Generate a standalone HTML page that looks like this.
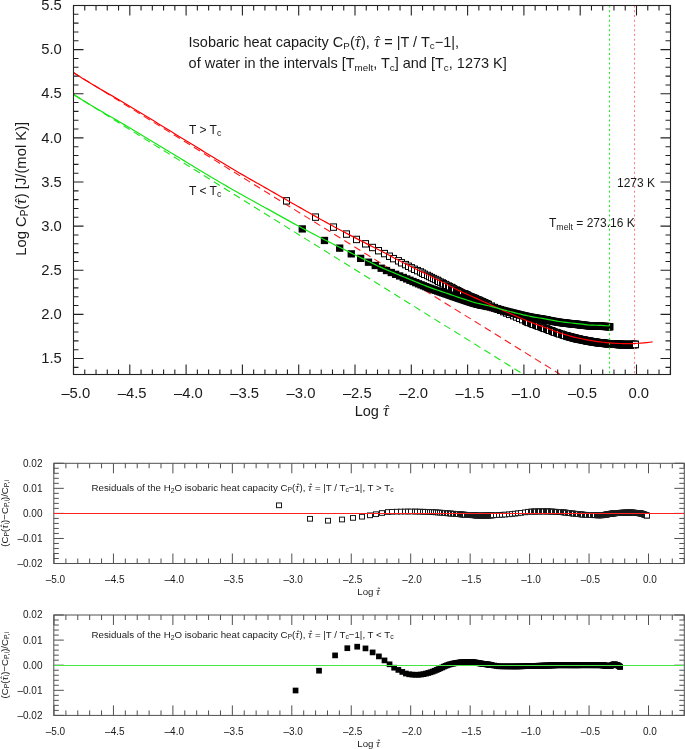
<!DOCTYPE html><html><head><meta charset="utf-8"><style>html,body{margin:0;padding:0;background:#fff;overflow:hidden}svg{display:block}text{font-family:"Liberation Sans", sans-serif}</style></head><body><svg width="685" height="749" viewBox="0 0 685 749" style="will-change:transform"><rect width="685" height="749" fill="#fff"/><defs><clipPath id="cm"><rect x="73.5" y="5.5" width="597" height="369"/></clipPath><clipPath id="cr1"><rect x="53.8" y="463.3" width="630.5" height="100.2"/></clipPath><clipPath id="cr2"><rect x="53.8" y="615" width="630.5" height="100.4"/></clipPath></defs><g clip-path="url(#cm)"><line x1="73.5" y1="72.6" x2="700" y2="461.03" stroke="#ff1a1a" stroke-width="1.1" stroke-dasharray="7.2 4.6"/><line x1="73.5" y1="94.5" x2="700" y2="484.18" stroke="#1ae61a" stroke-width="1.1" stroke-dasharray="7.2 4.6"/><g fill="#fff" stroke="#000" stroke-width="1"><rect x="283.5" y="197.67" width="6" height="6.4"/><rect x="312.5" y="213.93" width="6" height="6.4"/><rect x="330.5" y="223.9" width="6" height="6.4"/><rect x="343.5" y="230.88" width="6" height="6.4"/><rect x="353.5" y="236.25" width="6" height="6.4"/><rect x="362.5" y="240.63" width="6" height="6.4"/><rect x="369.5" y="244.31" width="6" height="6.4"/><rect x="375.5" y="247.49" width="6" height="6.4"/><rect x="381.5" y="250.39" width="6" height="6.4"/><rect x="386.5" y="253.04" width="6" height="6.4"/><rect x="390.5" y="255.45" width="6" height="6.4"/><rect x="395.5" y="257.63" width="6" height="6.4"/><rect x="398.5" y="259.61" width="6" height="6.4"/><rect x="402.5" y="261.41" width="6" height="6.4"/><rect x="405.5" y="263.08" width="6" height="6.4"/><rect x="408.5" y="264.63" width="6" height="6.4"/><rect x="411.5" y="266.08" width="6" height="6.4"/><rect x="414.5" y="267.45" width="6" height="6.4"/><rect x="417.5" y="268.74" width="6" height="6.4"/><rect x="419.5" y="269.97" width="6" height="6.4"/><rect x="421.5" y="271.14" width="6" height="6.4"/><rect x="424.5" y="272.26" width="6" height="6.4"/><rect x="426.5" y="273.33" width="6" height="6.4"/><rect x="428.5" y="274.36" width="6" height="6.4"/><rect x="430.5" y="275.34" width="6" height="6.4"/><rect x="432.5" y="276.29" width="6" height="6.4"/><rect x="434.5" y="277.2" width="6" height="6.4"/><rect x="435.5" y="278.08" width="6" height="6.4"/><rect x="437.5" y="278.93" width="6" height="6.4"/><rect x="439.5" y="279.75" width="6" height="6.4"/><rect x="440.5" y="280.55" width="6" height="6.4"/><rect x="442.5" y="281.33" width="6" height="6.4"/><rect x="443.5" y="282.08" width="6" height="6.4"/><rect x="445.5" y="282.83" width="6" height="6.4"/><rect x="446.5" y="283.55" width="6" height="6.4"/><rect x="448.5" y="284.26" width="6" height="6.4"/><rect x="449.5" y="284.95" width="6" height="6.4"/><rect x="450.5" y="285.61" width="6" height="6.4"/><rect x="451.5" y="286.26" width="6" height="6.4"/><rect x="453.5" y="286.88" width="6" height="6.4"/><rect x="454.5" y="287.48" width="6" height="6.4"/><rect x="455.5" y="288.06" width="6" height="6.4"/><rect x="456.5" y="288.61" width="6" height="6.4"/><rect x="457.5" y="289.14" width="6" height="6.4"/><rect x="458.5" y="289.66" width="6" height="6.4"/><rect x="459.5" y="290.15" width="6" height="6.4"/><rect x="461.5" y="290.62" width="6" height="6.4"/><rect x="462.5" y="291.08" width="6" height="6.4"/><rect x="463.5" y="291.53" width="6" height="6.4"/><rect x="464.5" y="291.97" width="6" height="6.4"/><rect x="464.5" y="292.39" width="6" height="6.4"/><rect x="465.5" y="292.8" width="6" height="6.4"/><rect x="466.5" y="293.21" width="6" height="6.4"/><rect x="467.5" y="293.61" width="6" height="6.4"/><rect x="468.5" y="294" width="6" height="6.4"/><rect x="469.5" y="294.38" width="6" height="6.4"/><rect x="470.5" y="294.76" width="6" height="6.4"/><rect x="471.5" y="295.14" width="6" height="6.4"/><rect x="472.5" y="295.51" width="6" height="6.4"/><rect x="472.5" y="295.87" width="6" height="6.4"/><rect x="473.5" y="296.23" width="6" height="6.4"/><rect x="474.5" y="296.58" width="6" height="6.4"/><rect x="475.5" y="296.93" width="6" height="6.4"/><rect x="476.5" y="297.27" width="6" height="6.4"/><rect x="476.5" y="297.61" width="6" height="6.4"/><rect x="477.5" y="297.94" width="6" height="6.4"/><rect x="478.5" y="298.27" width="6" height="6.4"/><rect x="479.5" y="298.59" width="6" height="6.4"/><rect x="479.5" y="298.91" width="6" height="6.4"/><rect x="480.5" y="299.22" width="6" height="6.4"/><rect x="481.5" y="299.53" width="6" height="6.4"/><rect x="481.5" y="299.83" width="6" height="6.4"/><rect x="482.5" y="300.13" width="6" height="6.4"/><rect x="483.5" y="300.43" width="6" height="6.4"/><rect x="483.5" y="300.72" width="6" height="6.4"/><rect x="484.5" y="301.01" width="6" height="6.4"/><rect x="485.5" y="301.3" width="6" height="6.4"/><rect x="485.5" y="301.58" width="6" height="6.4"/><rect x="488.5" y="302.94" width="6" height="6.4"/><rect x="491.5" y="304.31" width="6" height="6.4"/><rect x="494.5" y="305.68" width="6" height="6.4"/><rect x="497.5" y="307.05" width="6" height="6.4"/><rect x="500.5" y="308.43" width="6" height="6.4"/><rect x="503.5" y="309.8" width="6" height="6.4"/><rect x="506.5" y="311.16" width="6" height="6.4"/><rect x="510.5" y="312.49" width="6" height="6.4"/><rect x="513.5" y="313.82" width="6" height="6.4"/><rect x="516.5" y="315.14" width="6" height="6.4"/><rect x="519.5" y="316.45" width="6" height="6.4"/><rect x="522.5" y="317.73" width="6" height="6.4"/><rect x="523.5" y="318.24" width="6" height="6.4"/><rect x="524.5" y="318.74" width="6" height="6.4"/><rect x="525.5" y="319.24" width="6" height="6.4"/><rect x="527.5" y="319.73" width="6" height="6.4"/><rect x="528.5" y="320.21" width="6" height="6.4"/><rect x="529.5" y="320.69" width="6" height="6.4"/><rect x="530.5" y="321.15" width="6" height="6.4"/><rect x="532.5" y="321.61" width="6" height="6.4"/><rect x="533.5" y="322.06" width="6" height="6.4"/><rect x="534.5" y="322.51" width="6" height="6.4"/><rect x="535.5" y="322.96" width="6" height="6.4"/><rect x="537.5" y="323.4" width="6" height="6.4"/><rect x="538.5" y="323.84" width="6" height="6.4"/><rect x="539.5" y="324.29" width="6" height="6.4"/><rect x="540.5" y="324.74" width="6" height="6.4"/><rect x="541.5" y="325.19" width="6" height="6.4"/><rect x="543.5" y="325.64" width="6" height="6.4"/><rect x="544.5" y="326.11" width="6" height="6.4"/><rect x="545.5" y="326.58" width="6" height="6.4"/><rect x="546.5" y="327.05" width="6" height="6.4"/><rect x="548.5" y="327.52" width="6" height="6.4"/><rect x="549.5" y="327.99" width="6" height="6.4"/><rect x="550.5" y="328.46" width="6" height="6.4"/><rect x="551.5" y="328.92" width="6" height="6.4"/><rect x="553.5" y="329.37" width="6" height="6.4"/><rect x="554.5" y="329.81" width="6" height="6.4"/><rect x="555.5" y="330.24" width="6" height="6.4"/><rect x="556.5" y="330.65" width="6" height="6.4"/><rect x="558.5" y="331.05" width="6" height="6.4"/><rect x="559.5" y="331.45" width="6" height="6.4"/><rect x="560.5" y="331.83" width="6" height="6.4"/><rect x="561.5" y="332.21" width="6" height="6.4"/><rect x="563.5" y="332.59" width="6" height="6.4"/><rect x="563.5" y="332.78" width="6" height="6.4"/><rect x="564.5" y="332.96" width="6" height="6.4"/><rect x="564.5" y="333.14" width="6" height="6.4"/><rect x="565.5" y="333.32" width="6" height="6.4"/><rect x="566.5" y="333.49" width="6" height="6.4"/><rect x="566.5" y="333.66" width="6" height="6.4"/><rect x="567.5" y="333.82" width="6" height="6.4"/><rect x="567.5" y="333.98" width="6" height="6.4"/><rect x="568.5" y="334.14" width="6" height="6.4"/><rect x="569.5" y="334.29" width="6" height="6.4"/><rect x="569.5" y="334.44" width="6" height="6.4"/><rect x="570.5" y="334.58" width="6" height="6.4"/><rect x="570.5" y="334.72" width="6" height="6.4"/><rect x="571.5" y="334.86" width="6" height="6.4"/><rect x="571.5" y="334.99" width="6" height="6.4"/><rect x="572.5" y="335.12" width="6" height="6.4"/><rect x="572.5" y="335.24" width="6" height="6.4"/><rect x="573.5" y="335.37" width="6" height="6.4"/><rect x="573.5" y="335.49" width="6" height="6.4"/><rect x="574.5" y="335.61" width="6" height="6.4"/><rect x="574.5" y="335.72" width="6" height="6.4"/><rect x="575.5" y="335.84" width="6" height="6.4"/><rect x="576.5" y="336" width="6" height="6.4"/><rect x="576.5" y="336.17" width="6" height="6.4"/><rect x="577.5" y="336.32" width="6" height="6.4"/><rect x="578.5" y="336.48" width="6" height="6.4"/><rect x="579.5" y="336.62" width="6" height="6.4"/><rect x="579.5" y="336.77" width="6" height="6.4"/><rect x="580.5" y="336.91" width="6" height="6.4"/><rect x="581.5" y="337.04" width="6" height="6.4"/><rect x="581.5" y="337.18" width="6" height="6.4"/><rect x="582.5" y="337.3" width="6" height="6.4"/><rect x="583.5" y="337.43" width="6" height="6.4"/><rect x="583.5" y="337.55" width="6" height="6.4"/><rect x="584.5" y="337.67" width="6" height="6.4"/><rect x="584.5" y="337.78" width="6" height="6.4"/><rect x="585.5" y="337.89" width="6" height="6.4"/><rect x="586.5" y="338" width="6" height="6.4"/><rect x="586.5" y="338.11" width="6" height="6.4"/><rect x="587.5" y="338.21" width="6" height="6.4"/><rect x="587.5" y="338.31" width="6" height="6.4"/><rect x="588.5" y="338.4" width="6" height="6.4"/><rect x="589.5" y="338.5" width="6" height="6.4"/><rect x="589.5" y="338.59" width="6" height="6.4"/><rect x="590.5" y="338.68" width="6" height="6.4"/><rect x="590.5" y="338.77" width="6" height="6.4"/><rect x="591.5" y="338.86" width="6" height="6.4"/><rect x="591.5" y="338.94" width="6" height="6.4"/><rect x="592.5" y="339.02" width="6" height="6.4"/><rect x="592.5" y="339.1" width="6" height="6.4"/><rect x="593.5" y="339.18" width="6" height="6.4"/><rect x="593.5" y="339.25" width="6" height="6.4"/><rect x="594.5" y="339.33" width="6" height="6.4"/><rect x="594.5" y="339.4" width="6" height="6.4"/><rect x="595.5" y="339.48" width="6" height="6.4"/><rect x="596.5" y="339.57" width="6" height="6.4"/><rect x="596.5" y="339.65" width="6" height="6.4"/><rect x="597.5" y="339.73" width="6" height="6.4"/><rect x="598.5" y="339.8" width="6" height="6.4"/><rect x="598.5" y="339.88" width="6" height="6.4"/><rect x="599.5" y="339.95" width="6" height="6.4"/><rect x="600.5" y="340.01" width="6" height="6.4"/><rect x="600.5" y="340.08" width="6" height="6.4"/><rect x="601.5" y="340.14" width="6" height="6.4"/><rect x="601.5" y="340.2" width="6" height="6.4"/><rect x="602.5" y="340.26" width="6" height="6.4"/><rect x="602.5" y="340.32" width="6" height="6.4"/><rect x="603.5" y="340.37" width="6" height="6.4"/><rect x="604.5" y="340.43" width="6" height="6.4"/><rect x="604.5" y="340.48" width="6" height="6.4"/><rect x="605.5" y="340.53" width="6" height="6.4"/><rect x="605.5" y="340.57" width="6" height="6.4"/><rect x="606.5" y="340.62" width="6" height="6.4"/><rect x="606.5" y="340.66" width="6" height="6.4"/><rect x="607.5" y="340.7" width="6" height="6.4"/><rect x="607.5" y="340.74" width="6" height="6.4"/><rect x="608.5" y="340.78" width="6" height="6.4"/><rect x="608.5" y="340.82" width="6" height="6.4"/><rect x="609.5" y="340.85" width="6" height="6.4"/><rect x="609.5" y="340.9" width="6" height="6.4"/><rect x="610.5" y="340.95" width="6" height="6.4"/><rect x="611.5" y="340.99" width="6" height="6.4"/><rect x="611.5" y="341.03" width="6" height="6.4"/><rect x="612.5" y="341.08" width="6" height="6.4"/><rect x="612.5" y="341.11" width="6" height="6.4"/><rect x="613.5" y="341.15" width="6" height="6.4"/><rect x="614.5" y="341.18" width="6" height="6.4"/><rect x="614.5" y="341.21" width="6" height="6.4"/><rect x="615.5" y="341.23" width="6" height="6.4"/><rect x="615.5" y="341.26" width="6" height="6.4"/><rect x="616.5" y="341.28" width="6" height="6.4"/><rect x="616.5" y="341.29" width="6" height="6.4"/><rect x="617.5" y="341.3" width="6" height="6.4"/><rect x="617.5" y="341.31" width="6" height="6.4"/><rect x="618.5" y="341.32" width="6" height="6.4"/><rect x="618.5" y="341.33" width="6" height="6.4"/><rect x="619.5" y="341.33" width="6" height="6.4"/><rect x="619.5" y="341.34" width="6" height="6.4"/><rect x="620.5" y="341.35" width="6" height="6.4"/><rect x="621.5" y="341.36" width="6" height="6.4"/><rect x="621.5" y="341.36" width="6" height="6.4"/><rect x="622.5" y="341.37" width="6" height="6.4"/><rect x="622.5" y="341.38" width="6" height="6.4"/><rect x="623.5" y="341.38" width="6" height="6.4"/><rect x="623.5" y="341.39" width="6" height="6.4"/><rect x="624.5" y="341.39" width="6" height="6.4"/><rect x="625.5" y="341.39" width="6" height="6.4"/><rect x="625.5" y="341.4" width="6" height="6.4"/><rect x="626.5" y="341.4" width="6" height="6.4"/><rect x="626.5" y="341.4" width="6" height="6.4"/><rect x="627.5" y="341.4" width="6" height="6.4"/><rect x="627.5" y="341.4" width="6" height="6.4"/><rect x="628.5" y="341.39" width="6" height="6.4"/><rect x="628.5" y="341.38" width="6" height="6.4"/><rect x="629.5" y="341.37" width="6" height="6.4"/><rect x="629.5" y="341.35" width="6" height="6.4"/><rect x="630.5" y="341.33" width="6" height="6.4"/><rect x="630.5" y="341.3" width="6" height="6.4"/><rect x="631.5" y="341.28" width="6" height="6.4"/><rect x="632.5" y="341.25" width="6" height="6.4"/><rect x="632.5" y="341.24" width="6" height="6.4"/></g><g fill="#000"><rect x="298.61" y="225.26" width="7.3" height="7.3"/><rect x="320.82" y="236.82" width="7.3" height="7.3"/><rect x="336.03" y="244.49" width="7.3" height="7.3"/><rect x="347.62" y="250.19" width="7.3" height="7.3"/><rect x="356.98" y="254.73" width="7.3" height="7.3"/><rect x="364.83" y="258.55" width="7.3" height="7.3"/><rect x="371.6" y="261.84" width="7.3" height="7.3"/><rect x="377.54" y="264.58" width="7.3" height="7.3"/><rect x="382.84" y="266.88" width="7.3" height="7.3"/><rect x="387.62" y="268.88" width="7.3" height="7.3"/><rect x="391.97" y="270.67" width="7.3" height="7.3"/><rect x="395.97" y="272.31" width="7.3" height="7.3"/><rect x="399.66" y="273.83" width="7.3" height="7.3"/><rect x="403.1" y="275.26" width="7.3" height="7.3"/><rect x="406.31" y="276.6" width="7.3" height="7.3"/><rect x="409.32" y="277.86" width="7.3" height="7.3"/><rect x="412.16" y="279.03" width="7.3" height="7.3"/><rect x="414.84" y="280.14" width="7.3" height="7.3"/><rect x="417.38" y="281.17" width="7.3" height="7.3"/><rect x="419.8" y="282.13" width="7.3" height="7.3"/><rect x="422.1" y="283.04" width="7.3" height="7.3"/><rect x="424.3" y="283.88" width="7.3" height="7.3"/><rect x="426.41" y="284.67" width="7.3" height="7.3"/><rect x="428.42" y="285.41" width="7.3" height="7.3"/><rect x="430.36" y="286.1" width="7.3" height="7.3"/><rect x="432.23" y="286.74" width="7.3" height="7.3"/><rect x="434.02" y="287.36" width="7.3" height="7.3"/><rect x="435.75" y="287.95" width="7.3" height="7.3"/><rect x="437.43" y="288.52" width="7.3" height="7.3"/><rect x="439.04" y="289.06" width="7.3" height="7.3"/><rect x="440.61" y="289.6" width="7.3" height="7.3"/><rect x="442.12" y="290.12" width="7.3" height="7.3"/><rect x="443.6" y="290.62" width="7.3" height="7.3"/><rect x="445.02" y="291.11" width="7.3" height="7.3"/><rect x="446.41" y="291.59" width="7.3" height="7.3"/><rect x="447.76" y="292.05" width="7.3" height="7.3"/><rect x="449.07" y="292.5" width="7.3" height="7.3"/><rect x="450.35" y="292.94" width="7.3" height="7.3"/><rect x="451.6" y="293.36" width="7.3" height="7.3"/><rect x="452.82" y="293.77" width="7.3" height="7.3"/><rect x="454" y="294.17" width="7.3" height="7.3"/><rect x="455.16" y="294.56" width="7.3" height="7.3"/><rect x="456.29" y="294.93" width="7.3" height="7.3"/><rect x="457.4" y="295.3" width="7.3" height="7.3"/><rect x="458.48" y="295.66" width="7.3" height="7.3"/><rect x="459.53" y="296.01" width="7.3" height="7.3"/><rect x="460.57" y="296.36" width="7.3" height="7.3"/><rect x="461.58" y="296.7" width="7.3" height="7.3"/><rect x="462.58" y="297.03" width="7.3" height="7.3"/><rect x="463.55" y="297.35" width="7.3" height="7.3"/><rect x="464.5" y="297.67" width="7.3" height="7.3"/><rect x="465.44" y="297.97" width="7.3" height="7.3"/><rect x="466.36" y="298.27" width="7.3" height="7.3"/><rect x="467.26" y="298.55" width="7.3" height="7.3"/><rect x="468.15" y="298.82" width="7.3" height="7.3"/><rect x="469.01" y="299.08" width="7.3" height="7.3"/><rect x="469.87" y="299.33" width="7.3" height="7.3"/><rect x="470.71" y="299.57" width="7.3" height="7.3"/><rect x="471.53" y="299.8" width="7.3" height="7.3"/><rect x="472.35" y="300.02" width="7.3" height="7.3"/><rect x="473.14" y="300.23" width="7.3" height="7.3"/><rect x="473.93" y="300.43" width="7.3" height="7.3"/><rect x="474.7" y="300.62" width="7.3" height="7.3"/><rect x="475.46" y="300.8" width="7.3" height="7.3"/><rect x="476.21" y="300.98" width="7.3" height="7.3"/><rect x="476.95" y="301.16" width="7.3" height="7.3"/><rect x="477.68" y="301.32" width="7.3" height="7.3"/><rect x="478.4" y="301.49" width="7.3" height="7.3"/><rect x="479.1" y="301.65" width="7.3" height="7.3"/><rect x="480.49" y="301.97" width="7.3" height="7.3"/><rect x="481.83" y="302.27" width="7.3" height="7.3"/><rect x="483.14" y="302.58" width="7.3" height="7.3"/><rect x="484.41" y="302.88" width="7.3" height="7.3"/><rect x="486.72" y="303.44" width="7.3" height="7.3"/><rect x="488.92" y="304.01" width="7.3" height="7.3"/><rect x="491.02" y="304.56" width="7.3" height="7.3"/><rect x="493.04" y="305.1" width="7.3" height="7.3"/><rect x="494.98" y="305.63" width="7.3" height="7.3"/><rect x="496.84" y="306.13" width="7.3" height="7.3"/><rect x="498.64" y="306.62" width="7.3" height="7.3"/><rect x="500.37" y="307.09" width="7.3" height="7.3"/><rect x="502.05" y="307.53" width="7.3" height="7.3"/><rect x="503.66" y="307.96" width="7.3" height="7.3"/><rect x="505.23" y="308.37" width="7.3" height="7.3"/><rect x="506.75" y="308.75" width="7.3" height="7.3"/><rect x="508.22" y="309.12" width="7.3" height="7.3"/><rect x="509.65" y="309.49" width="7.3" height="7.3"/><rect x="511.04" y="309.84" width="7.3" height="7.3"/><rect x="512.39" y="310.18" width="7.3" height="7.3"/><rect x="513.7" y="310.52" width="7.3" height="7.3"/><rect x="514.98" y="310.84" width="7.3" height="7.3"/><rect x="516.22" y="311.15" width="7.3" height="7.3"/><rect x="517.44" y="311.45" width="7.3" height="7.3"/><rect x="518.63" y="311.74" width="7.3" height="7.3"/><rect x="519.78" y="312.01" width="7.3" height="7.3"/><rect x="520.92" y="312.27" width="7.3" height="7.3"/><rect x="522.02" y="312.53" width="7.3" height="7.3"/><rect x="523.1" y="312.77" width="7.3" height="7.3"/><rect x="524.16" y="313" width="7.3" height="7.3"/><rect x="525.2" y="313.21" width="7.3" height="7.3"/><rect x="526.21" y="313.42" width="7.3" height="7.3"/><rect x="527.2" y="313.62" width="7.3" height="7.3"/><rect x="528.18" y="313.8" width="7.3" height="7.3"/><rect x="529.13" y="313.98" width="7.3" height="7.3"/><rect x="530.07" y="314.15" width="7.3" height="7.3"/><rect x="530.99" y="314.31" width="7.3" height="7.3"/><rect x="531.89" y="314.46" width="7.3" height="7.3"/><rect x="532.77" y="314.61" width="7.3" height="7.3"/><rect x="533.64" y="314.76" width="7.3" height="7.3"/><rect x="534.5" y="314.9" width="7.3" height="7.3"/><rect x="535.34" y="315.04" width="7.3" height="7.3"/><rect x="536.16" y="315.17" width="7.3" height="7.3"/><rect x="536.97" y="315.31" width="7.3" height="7.3"/><rect x="537.77" y="315.44" width="7.3" height="7.3"/><rect x="538.56" y="315.57" width="7.3" height="7.3"/><rect x="539.33" y="315.7" width="7.3" height="7.3"/><rect x="540.09" y="315.83" width="7.3" height="7.3"/><rect x="540.84" y="315.96" width="7.3" height="7.3"/><rect x="541.58" y="316.09" width="7.3" height="7.3"/><rect x="542.31" y="316.22" width="7.3" height="7.3"/><rect x="543.03" y="316.35" width="7.3" height="7.3"/><rect x="543.73" y="316.49" width="7.3" height="7.3"/><rect x="545.12" y="316.75" width="7.3" height="7.3"/><rect x="546.46" y="317.01" width="7.3" height="7.3"/><rect x="547.77" y="317.26" width="7.3" height="7.3"/><rect x="549.04" y="317.5" width="7.3" height="7.3"/><rect x="550.29" y="317.74" width="7.3" height="7.3"/><rect x="551.5" y="317.96" width="7.3" height="7.3"/><rect x="552.68" y="318.17" width="7.3" height="7.3"/><rect x="553.83" y="318.36" width="7.3" height="7.3"/><rect x="554.96" y="318.54" width="7.3" height="7.3"/><rect x="556.06" y="318.71" width="7.3" height="7.3"/><rect x="557.14" y="318.86" width="7.3" height="7.3"/><rect x="558.2" y="319" width="7.3" height="7.3"/><rect x="559.23" y="319.14" width="7.3" height="7.3"/><rect x="560.24" y="319.27" width="7.3" height="7.3"/><rect x="561.23" y="319.39" width="7.3" height="7.3"/><rect x="562.2" y="319.5" width="7.3" height="7.3"/><rect x="563.15" y="319.62" width="7.3" height="7.3"/><rect x="564.09" y="319.72" width="7.3" height="7.3"/><rect x="565" y="319.83" width="7.3" height="7.3"/><rect x="565.9" y="319.93" width="7.3" height="7.3"/><rect x="566.79" y="320.02" width="7.3" height="7.3"/><rect x="567.65" y="320.12" width="7.3" height="7.3"/><rect x="568.51" y="320.21" width="7.3" height="7.3"/><rect x="569.34" y="320.3" width="7.3" height="7.3"/><rect x="570.17" y="320.38" width="7.3" height="7.3"/><rect x="570.98" y="320.47" width="7.3" height="7.3"/><rect x="571.78" y="320.55" width="7.3" height="7.3"/><rect x="572.56" y="320.64" width="7.3" height="7.3"/><rect x="573.33" y="320.72" width="7.3" height="7.3"/><rect x="574.09" y="320.8" width="7.3" height="7.3"/><rect x="574.84" y="320.88" width="7.3" height="7.3"/><rect x="575.58" y="320.96" width="7.3" height="7.3"/><rect x="576.3" y="321.04" width="7.3" height="7.3"/><rect x="577.02" y="321.13" width="7.3" height="7.3"/><rect x="577.72" y="321.21" width="7.3" height="7.3"/><rect x="578.76" y="321.34" width="7.3" height="7.3"/><rect x="579.78" y="321.47" width="7.3" height="7.3"/><rect x="580.78" y="321.6" width="7.3" height="7.3"/><rect x="581.75" y="321.72" width="7.3" height="7.3"/><rect x="582.71" y="321.83" width="7.3" height="7.3"/><rect x="583.65" y="321.93" width="7.3" height="7.3"/><rect x="584.57" y="322.02" width="7.3" height="7.3"/><rect x="585.47" y="322.09" width="7.3" height="7.3"/><rect x="586.36" y="322.15" width="7.3" height="7.3"/><rect x="587.23" y="322.2" width="7.3" height="7.3"/><rect x="588.09" y="322.24" width="7.3" height="7.3"/><rect x="588.93" y="322.28" width="7.3" height="7.3"/><rect x="589.76" y="322.31" width="7.3" height="7.3"/><rect x="590.57" y="322.34" width="7.3" height="7.3"/><rect x="591.38" y="322.37" width="7.3" height="7.3"/><rect x="592.16" y="322.39" width="7.3" height="7.3"/><rect x="592.94" y="322.42" width="7.3" height="7.3"/><rect x="593.7" y="322.45" width="7.3" height="7.3"/><rect x="594.45" y="322.47" width="7.3" height="7.3"/><rect x="595.19" y="322.5" width="7.3" height="7.3"/><rect x="595.92" y="322.53" width="7.3" height="7.3"/><rect x="596.64" y="322.56" width="7.3" height="7.3"/><rect x="597.35" y="322.6" width="7.3" height="7.3"/><rect x="598.28" y="322.64" width="7.3" height="7.3"/><rect x="599.19" y="322.69" width="7.3" height="7.3"/><rect x="600.08" y="322.73" width="7.3" height="7.3"/><rect x="600.96" y="322.78" width="7.3" height="7.3"/><rect x="601.82" y="322.82" width="7.3" height="7.3"/><rect x="602.67" y="322.87" width="7.3" height="7.3"/><rect x="603.5" y="322.92" width="7.3" height="7.3"/><rect x="604.32" y="322.96" width="7.3" height="7.3"/><rect x="605.13" y="323.01" width="7.3" height="7.3"/><rect x="605.92" y="323.05" width="7.3" height="7.3"/><rect x="606.03" y="323.05" width="7.3" height="7.3"/></g><line x1="609.5" y1="5.5" x2="609.5" y2="374" stroke="#22ee22" stroke-width="1.1" stroke-dasharray="2 2.75"/><line x1="634.5" y1="5.5" x2="634.5" y2="374" stroke="#ff7f7f" stroke-width="1.1" stroke-dasharray="2 2.75"/><polyline fill="none" stroke="#ff0000" stroke-width="1.2" points="73.5,72.6 76.41,74.48 79.32,76.34 82.23,78.19 85.14,80.01 88.05,81.81 90.96,83.58 93.87,85.32 96.78,87.03 99.69,88.71 102.6,90.38 105.51,92.04 108.42,93.7 111.33,95.36 114.24,97.04 117.15,98.72 120.06,100.44 122.97,102.17 125.88,103.9 128.79,105.65 131.7,107.4 134.61,109.16 137.52,110.93 140.43,112.7 143.34,114.47 146.25,116.25 149.16,118.04 152.07,119.83 154.98,121.61 157.89,123.41 160.8,125.2 163.71,126.99 166.62,128.78 169.53,130.57 172.44,132.36 175.35,134.15 178.26,135.94 181.17,137.72 184.08,139.5 186.99,141.27 189.9,143.04 192.81,144.81 195.72,146.58 198.63,148.35 201.54,150.13 204.45,151.91 207.36,153.68 210.27,155.46 213.18,157.23 216.09,159 219,160.77 221.91,162.53 224.82,164.28 227.73,166.03 230.64,167.77 233.55,169.5 236.46,171.22 239.37,172.93 242.28,174.63 245.19,176.31 248.1,177.98 251.01,179.64 253.92,181.29 256.83,182.94 259.74,184.58 262.65,186.23 265.56,187.87 268.47,189.53 271.38,191.19 274.29,192.86 277.2,194.53 280.11,196.21 283.02,197.88 285.93,199.56 288.84,201.23 291.75,202.9 294.66,204.56 297.57,206.22 300.48,207.87 303.39,209.53 306.3,211.18 309.21,212.83 312.12,214.48 315.03,216.12 317.94,217.76 320.85,219.4 323.76,221.03 326.67,222.64 329.58,224.25 332.49,225.84 335.4,227.42 338.31,228.98 341.22,230.53 344.13,232.07 347.04,233.6 349.95,235.13 352.86,236.64 355.77,238.15 358.68,239.65 361.59,241.15 364.51,242.65 367.42,244.13 370.33,245.6 373.24,247.07 376.15,248.53 379.06,250.01 381.97,251.52 384.88,253.04 387.79,254.58 390.7,256.12 393.61,257.66 396.52,259.19 399.43,260.7 402.34,262.19 405.25,263.67 408.16,265.13 411.07,266.59 413.98,268.04 416.89,269.49 419.8,270.93 422.71,272.37 425.62,273.82 428.53,275.26 431.44,276.72 434.35,278.17 437.26,279.62 440.17,281.08 443.08,282.53 445.99,284 448.9,285.49 451.81,287 454.72,288.49 457.63,289.95 460.54,291.35 463.45,292.7 466.36,294 469.27,295.28 472.18,296.55 475.09,297.84 478,299.14 480.91,300.44 483.82,301.73 486.73,303.03 489.64,304.34 492.55,305.64 495.46,306.95 498.37,308.26 501.28,309.58 504.19,310.9 507.1,312.21 510.01,313.5 512.92,314.78 515.83,316.06 518.74,317.32 521.65,318.57 524.56,319.8 527.47,320.99 530.38,322.15 533.29,323.26 536.2,324.33 539.11,325.38 542.02,326.42 544.93,327.47 547.84,328.56 550.75,329.67 553.66,330.77 556.57,331.83 559.48,332.83 562.39,333.76 565.3,334.65 568.21,335.51 571.12,336.31 574.03,337.06 576.94,337.76 579.85,338.41 582.76,339.03 585.67,339.61 588.58,340.15 591.49,340.65 594.4,341.12 597.31,341.55 600.22,341.93 603.13,342.26 606.04,342.56 608.95,342.82 611.86,343.04 614.77,343.26 617.68,343.43 620.59,343.51 623.5,343.55 626.41,343.58 629.32,343.6 632.23,343.56 635.14,343.42 638.05,343.23 640.96,343.04 643.87,342.81 646.78,342.54 649.69,342.24 652.6,341.9"/><polyline fill="none" stroke="#14e614" stroke-width="1.2" points="73.5,94.5 76.19,96.2 78.89,97.88 81.58,99.56 84.27,101.22 86.97,102.87 89.66,104.5 92.35,106.1 95.05,107.69 97.74,109.26 100.43,110.82 103.13,112.37 105.82,113.91 108.52,115.45 111.21,116.99 113.9,118.55 116.6,120.11 119.29,121.68 121.98,123.27 124.68,124.87 127.37,126.47 130.06,128.08 132.76,129.69 135.45,131.31 138.14,132.93 140.84,134.56 143.53,136.19 146.22,137.81 148.92,139.45 151.61,141.08 154.3,142.71 157,144.34 159.69,145.97 162.38,147.6 165.08,149.23 167.77,150.86 170.46,152.48 173.16,154.1 175.85,155.73 178.55,157.36 181.24,159 183.93,160.63 186.63,162.27 189.32,163.9 192.01,165.54 194.71,167.17 197.4,168.8 200.09,170.43 202.79,172.05 205.48,173.67 208.17,175.29 210.87,176.9 213.56,178.5 216.25,180.1 218.95,181.68 221.64,183.26 224.33,184.83 227.03,186.39 229.72,187.95 232.41,189.49 235.11,191.03 237.8,192.56 240.49,194.08 243.19,195.59 245.88,197.08 248.58,198.57 251.27,200.05 253.96,201.53 256.66,203 259.35,204.47 262.04,205.94 264.74,207.41 267.43,208.89 270.12,210.37 272.82,211.86 275.51,213.36 278.2,214.86 280.9,216.37 283.59,217.87 286.28,219.38 288.98,220.88 291.67,222.37 294.36,223.85 297.06,225.32 299.75,226.77 302.44,228.2 305.14,229.63 307.83,231.05 310.53,232.47 313.22,233.87 315.91,235.27 318.61,236.66 321.3,238.05 323.99,239.42 326.69,240.8 329.38,242.16 332.07,243.53 334.77,244.88 337.46,246.23 340.15,247.57 342.85,248.91 345.54,250.24 348.23,251.56 350.93,252.87 353.62,254.18 356.31,255.49 359.01,256.8 361.7,258.1 364.39,259.41 367.09,260.72 369.78,262.04 372.47,263.35 375.17,264.65 377.86,265.92 380.56,267.15 383.25,268.34 385.94,269.5 388.64,270.64 391.33,271.76 394.02,272.87 396.72,273.97 399.41,275.07 402.1,276.18 404.8,277.29 407.49,278.42 410.18,279.54 412.88,280.67 415.57,281.78 418.26,282.89 420.96,283.99 423.65,285.06 426.34,286.12 429.04,287.14 431.73,288.13 434.42,289.09 437.12,290.02 439.81,290.94 442.51,291.85 445.2,292.77 447.89,293.69 450.59,294.62 453.28,295.54 455.97,296.46 458.67,297.36 461.36,298.25 464.05,299.15 466.75,300.05 469.44,300.93 472.13,301.77 474.83,302.55 477.52,303.26 480.21,303.91 482.91,304.54 485.6,305.15 488.29,305.78 490.99,306.45 493.68,307.15 496.37,307.87 499.07,308.6 501.76,309.33 504.45,310.05 507.15,310.77 509.84,311.46 512.54,312.14 515.23,312.83 517.92,313.51 520.62,314.18 523.31,314.83 526,315.45 528.7,316.03 531.39,316.57 534.08,317.06 536.78,317.52 539.47,317.97 542.16,318.41 544.86,318.87 547.55,319.37 550.24,319.88 552.94,320.4 555.63,320.89 558.32,321.35 561.02,321.74 563.71,322.09 566.4,322.42 569.1,322.73 571.79,323.02 574.48,323.3 577.18,323.59 579.87,323.89 582.57,324.21 585.26,324.55 587.95,324.84 590.65,325.04 593.34,325.16 596.03,325.25 598.73,325.35 601.42,325.47 604.11,325.6 606.81,325.75 609.5,325.9"/></g><path d="M73.5 374.5V364.5M73.5 5.5V15.5M84.76 374.5V369.5M84.76 5.5V10.5M96.02 374.5V369.5M96.02 5.5V10.5M107.28 374.5V369.5M107.28 5.5V10.5M118.54 374.5V369.5M118.54 5.5V10.5M129.8 374.5V364.5M129.8 5.5V15.5M141.06 374.5V369.5M141.06 5.5V10.5M152.32 374.5V369.5M152.32 5.5V10.5M163.58 374.5V369.5M163.58 5.5V10.5M174.84 374.5V369.5M174.84 5.5V10.5M186.1 374.5V364.5M186.1 5.5V15.5M197.36 374.5V369.5M197.36 5.5V10.5M208.62 374.5V369.5M208.62 5.5V10.5M219.88 374.5V369.5M219.88 5.5V10.5M231.14 374.5V369.5M231.14 5.5V10.5M242.4 374.5V364.5M242.4 5.5V15.5M253.66 374.5V369.5M253.66 5.5V10.5M264.92 374.5V369.5M264.92 5.5V10.5M276.18 374.5V369.5M276.18 5.5V10.5M287.44 374.5V369.5M287.44 5.5V10.5M298.7 374.5V364.5M298.7 5.5V15.5M309.96 374.5V369.5M309.96 5.5V10.5M321.22 374.5V369.5M321.22 5.5V10.5M332.48 374.5V369.5M332.48 5.5V10.5M343.74 374.5V369.5M343.74 5.5V10.5M355 374.5V364.5M355 5.5V15.5M366.26 374.5V369.5M366.26 5.5V10.5M377.52 374.5V369.5M377.52 5.5V10.5M388.78 374.5V369.5M388.78 5.5V10.5M400.04 374.5V369.5M400.04 5.5V10.5M411.3 374.5V364.5M411.3 5.5V15.5M422.56 374.5V369.5M422.56 5.5V10.5M433.82 374.5V369.5M433.82 5.5V10.5M445.08 374.5V369.5M445.08 5.5V10.5M456.34 374.5V369.5M456.34 5.5V10.5M467.6 374.5V364.5M467.6 5.5V15.5M478.86 374.5V369.5M478.86 5.5V10.5M490.12 374.5V369.5M490.12 5.5V10.5M501.38 374.5V369.5M501.38 5.5V10.5M512.64 374.5V369.5M512.64 5.5V10.5M523.9 374.5V364.5M523.9 5.5V15.5M535.16 374.5V369.5M535.16 5.5V10.5M546.42 374.5V369.5M546.42 5.5V10.5M557.68 374.5V369.5M557.68 5.5V10.5M568.94 374.5V369.5M568.94 5.5V10.5M580.2 374.5V364.5M580.2 5.5V15.5M591.46 374.5V369.5M591.46 5.5V10.5M602.72 374.5V369.5M602.72 5.5V10.5M613.98 374.5V369.5M613.98 5.5V10.5M625.24 374.5V369.5M625.24 5.5V10.5M636.5 374.5V364.5M636.5 5.5V15.5M647.76 374.5V369.5M647.76 5.5V10.5M659.02 374.5V369.5M659.02 5.5V10.5M670.28 374.5V369.5M670.28 5.5V10.5M73.5 5.5H83.5M670.5 5.5H660.5M73.5 14.32H78.5M670.5 14.32H665.5M73.5 23.15H78.5M670.5 23.15H665.5M73.5 31.97H78.5M670.5 31.97H665.5M73.5 40.8H78.5M670.5 40.8H665.5M73.5 49.62H83.5M670.5 49.62H660.5M73.5 58.45H78.5M670.5 58.45H665.5M73.5 67.28H78.5M670.5 67.28H665.5M73.5 76.1H78.5M670.5 76.1H665.5M73.5 84.93H78.5M670.5 84.93H665.5M73.5 93.75H83.5M670.5 93.75H660.5M73.5 102.57H78.5M670.5 102.57H665.5M73.5 111.4H78.5M670.5 111.4H665.5M73.5 120.22H78.5M670.5 120.22H665.5M73.5 129.05H78.5M670.5 129.05H665.5M73.5 137.88H83.5M670.5 137.88H660.5M73.5 146.7H78.5M670.5 146.7H665.5M73.5 155.53H78.5M670.5 155.53H665.5M73.5 164.35H78.5M670.5 164.35H665.5M73.5 173.18H78.5M670.5 173.18H665.5M73.5 182H83.5M670.5 182H660.5M73.5 190.83H78.5M670.5 190.83H665.5M73.5 199.65H78.5M670.5 199.65H665.5M73.5 208.48H78.5M670.5 208.48H665.5M73.5 217.3H78.5M670.5 217.3H665.5M73.5 226.12H83.5M670.5 226.12H660.5M73.5 234.95H78.5M670.5 234.95H665.5M73.5 243.78H78.5M670.5 243.78H665.5M73.5 252.6H78.5M670.5 252.6H665.5M73.5 261.43H78.5M670.5 261.43H665.5M73.5 270.25H83.5M670.5 270.25H660.5M73.5 279.07H78.5M670.5 279.07H665.5M73.5 287.9H78.5M670.5 287.9H665.5M73.5 296.73H78.5M670.5 296.73H665.5M73.5 305.55H78.5M670.5 305.55H665.5M73.5 314.38H83.5M670.5 314.38H660.5M73.5 323.2H78.5M670.5 323.2H665.5M73.5 332.03H78.5M670.5 332.03H665.5M73.5 340.85H78.5M670.5 340.85H665.5M73.5 349.68H78.5M670.5 349.68H665.5M73.5 358.5H83.5M670.5 358.5H660.5M73.5 367.33H78.5M670.5 367.33H665.5" stroke="#222" stroke-width="1.1" fill="none"/><rect x="73.5" y="5.5" width="597" height="369" fill="none" stroke="#222" stroke-width="1.1"/><g font-size="14.8" fill="#1a1a1a"><text x="75.8" y="397.8" text-anchor="middle">–5.0</text><text x="132.1" y="397.8" text-anchor="middle">–4.5</text><text x="188.4" y="397.8" text-anchor="middle">–4.0</text><text x="244.7" y="397.8" text-anchor="middle">–3.5</text><text x="301" y="397.8" text-anchor="middle">–3.0</text><text x="357.3" y="397.8" text-anchor="middle">–2.5</text><text x="413.6" y="397.8" text-anchor="middle">–2.0</text><text x="469.9" y="397.8" text-anchor="middle">–1.5</text><text x="526.2" y="397.8" text-anchor="middle">–1.0</text><text x="582.5" y="397.8" text-anchor="middle">–0.5</text><text x="638.8" y="397.8" text-anchor="middle">0.0</text><text x="61.8" y="10.2" text-anchor="end">5.5</text><text x="61.8" y="54.33" text-anchor="end">5.0</text><text x="61.8" y="98.45" text-anchor="end">4.5</text><text x="61.8" y="142.57" text-anchor="end">4.0</text><text x="61.8" y="186.7" text-anchor="end">3.5</text><text x="61.8" y="230.82" text-anchor="end">3.0</text><text x="61.8" y="274.95" text-anchor="end">2.5</text><text x="61.8" y="319.07" text-anchor="end">2.0</text><text x="61.8" y="363.2" text-anchor="end">1.5</text></g><text x="372" y="416" text-anchor="middle" font-size="14.5" fill="#1a1a1a">Log <tspan font-family="Liberation Serif" font-style="italic" font-size="16.67">τ</tspan><tspan font-size="12.32" dx="-3.79" baseline-shift="1.45">ˆ</tspan><tspan dx="-0.02"></tspan></text><text transform="translate(25.6,188.8) rotate(-90)" text-anchor="middle" font-size="14.8" fill="#1a1a1a">Log C<tspan font-size="10" baseline-shift="-1.5">P</tspan>(<tspan font-family="Liberation Serif" font-style="italic" font-size="17.02">τ</tspan><tspan font-size="12.58" dx="-3.87" baseline-shift="1.48">ˆ</tspan><tspan dx="-0.02">) [J/(mol K)]</tspan></text><g font-size="14.5" fill="#1a1a1a"><text x="188.6" y="46.6">Isobaric heat capacity C<tspan font-size="9.8" baseline-shift="-1.5">P</tspan>(<tspan font-family="Liberation Serif" font-style="italic" font-size="16.67">τ</tspan><tspan font-size="12.32" dx="-3.79" baseline-shift="1.45">ˆ</tspan><tspan dx="-0.02">), </tspan><tspan font-family="Liberation Serif" font-style="italic" font-size="16.67">τ</tspan><tspan font-size="12.32" dx="-3.79" baseline-shift="1.45">ˆ</tspan><tspan dx="-0.02"></tspan> = |T / T<tspan font-size="9.8" baseline-shift="-1.5">c</tspan>−1|,</text><text x="188.6" y="67.6">of water in the intervals [T<tspan font-size="9.8" baseline-shift="-2.5">melt</tspan>, T<tspan font-size="9.8" baseline-shift="-2.5">c</tspan>] and [T<tspan font-size="9.8" baseline-shift="-2.5">c</tspan>, 1273 K]</text></g><g font-size="12" fill="#1a1a1a"><text x="189" y="134">T &gt; T<tspan font-size="8.8" baseline-shift="-2">c</tspan></text><text x="189" y="195">T &lt; T<tspan font-size="8.8" baseline-shift="-2">c</tspan></text><text x="617" y="186.9">1273 K</text><text x="549" y="227.3">T<tspan font-size="8.8" baseline-shift="-2.5">melt</tspan> = 273.16 K</text></g><g clip-path="url(#cr1)"><g fill="#fff" stroke="#1a1a1a" stroke-width="1"><rect x="276.5" y="502.95" width="5" height="4.7"/><rect x="307.5" y="516.45" width="5" height="4.7"/><rect x="325.5" y="518.35" width="5" height="4.7"/><rect x="339.5" y="517.15" width="5" height="4.7"/><rect x="350.5" y="515.55" width="5" height="4.7"/><rect x="359.5" y="514.35" width="5" height="4.7"/><rect x="367.5" y="512.95" width="5" height="4.7"/><rect x="373.5" y="511.85" width="5" height="4.7"/><rect x="379.5" y="510.65" width="5" height="4.7"/><rect x="385.5" y="509.65" width="5" height="4.7"/><rect x="389.5" y="509.46" width="5" height="4.7"/><rect x="394.5" y="509.32" width="5" height="4.7"/><rect x="398.5" y="509.24" width="5" height="4.7"/><rect x="402.5" y="509.19" width="5" height="4.7"/><rect x="405.5" y="509.16" width="5" height="4.7"/><rect x="408.5" y="509.15" width="5" height="4.7"/><rect x="412.5" y="509.18" width="5" height="4.7"/><rect x="414.5" y="509.23" width="5" height="4.7"/><rect x="417.5" y="509.3" width="5" height="4.7"/><rect x="420.5" y="509.38" width="5" height="4.7"/><rect x="422.5" y="509.46" width="5" height="4.7"/><rect x="425.5" y="509.55" width="5" height="4.7"/><rect x="427.5" y="509.63" width="5" height="4.7"/><rect x="429.5" y="509.72" width="5" height="4.7"/><rect x="431.5" y="509.83" width="5" height="4.7"/><rect x="433.5" y="509.97" width="5" height="4.7"/><rect x="435.5" y="510.11" width="5" height="4.7"/><rect x="437.5" y="510.26" width="5" height="4.7"/><rect x="439.5" y="510.41" width="5" height="4.7"/><rect x="441.5" y="510.56" width="5" height="4.7"/><rect x="442.5" y="510.71" width="5" height="4.7"/><rect x="444.5" y="510.85" width="5" height="4.7"/><rect x="445.5" y="510.98" width="5" height="4.7"/><rect x="447.5" y="511.11" width="5" height="4.7"/><rect x="448.5" y="511.22" width="5" height="4.7"/><rect x="450.5" y="511.34" width="5" height="4.7"/><rect x="451.5" y="511.46" width="5" height="4.7"/><rect x="453.5" y="511.57" width="5" height="4.7"/><rect x="454.5" y="511.69" width="5" height="4.7"/><rect x="455.5" y="511.8" width="5" height="4.7"/><rect x="457.5" y="511.91" width="5" height="4.7"/><rect x="458.5" y="512.02" width="5" height="4.7"/><rect x="459.5" y="512.12" width="5" height="4.7"/><rect x="460.5" y="512.22" width="5" height="4.7"/><rect x="461.5" y="512.31" width="5" height="4.7"/><rect x="462.5" y="512.4" width="5" height="4.7"/><rect x="464.5" y="512.48" width="5" height="4.7"/><rect x="465.5" y="512.56" width="5" height="4.7"/><rect x="466.5" y="512.64" width="5" height="4.7"/><rect x="467.5" y="512.7" width="5" height="4.7"/><rect x="468.5" y="512.77" width="5" height="4.7"/><rect x="469.5" y="512.83" width="5" height="4.7"/><rect x="470.5" y="512.89" width="5" height="4.7"/><rect x="471.5" y="512.96" width="5" height="4.7"/><rect x="472.5" y="513.02" width="5" height="4.7"/><rect x="473.5" y="513.08" width="5" height="4.7"/><rect x="473.5" y="513.13" width="5" height="4.7"/><rect x="474.5" y="513.17" width="5" height="4.7"/><rect x="475.5" y="513.21" width="5" height="4.7"/><rect x="476.5" y="513.23" width="5" height="4.7"/><rect x="477.5" y="513.25" width="5" height="4.7"/><rect x="478.5" y="513.25" width="5" height="4.7"/><rect x="479.5" y="513.25" width="5" height="4.7"/><rect x="479.5" y="513.24" width="5" height="4.7"/><rect x="480.5" y="513.23" width="5" height="4.7"/><rect x="481.5" y="513.22" width="5" height="4.7"/><rect x="482.5" y="513.2" width="5" height="4.7"/><rect x="483.5" y="513.19" width="5" height="4.7"/><rect x="483.5" y="513.17" width="5" height="4.7"/><rect x="484.5" y="513.15" width="5" height="4.7"/><rect x="485.5" y="513.13" width="5" height="4.7"/><rect x="485.5" y="513.1" width="5" height="4.7"/><rect x="486.5" y="513.08" width="5" height="4.7"/><rect x="487.5" y="513.05" width="5" height="4.7"/><rect x="488.5" y="513.02" width="5" height="4.7"/><rect x="488.5" y="513" width="5" height="4.7"/><rect x="489.5" y="512.97" width="5" height="4.7"/><rect x="490.5" y="512.94" width="5" height="4.7"/><rect x="493.5" y="512.79" width="5" height="4.7"/><rect x="496.5" y="512.63" width="5" height="4.7"/><rect x="499.5" y="512.45" width="5" height="4.7"/><rect x="502.5" y="512.22" width="5" height="4.7"/><rect x="506.5" y="511.94" width="5" height="4.7"/><rect x="509.5" y="511.62" width="5" height="4.7"/><rect x="512.5" y="511.27" width="5" height="4.7"/><rect x="515.5" y="510.91" width="5" height="4.7"/><rect x="518.5" y="510.52" width="5" height="4.7"/><rect x="522.5" y="509.98" width="5" height="4.7"/><rect x="525.5" y="509.46" width="5" height="4.7"/><rect x="528.5" y="509.23" width="5" height="4.7"/><rect x="529.5" y="509.2" width="5" height="4.7"/><rect x="531.5" y="509.17" width="5" height="4.7"/><rect x="532.5" y="509.15" width="5" height="4.7"/><rect x="533.5" y="509.13" width="5" height="4.7"/><rect x="535.5" y="509.11" width="5" height="4.7"/><rect x="536.5" y="509.09" width="5" height="4.7"/><rect x="537.5" y="509.08" width="5" height="4.7"/><rect x="539.5" y="509.06" width="5" height="4.7"/><rect x="540.5" y="509.06" width="5" height="4.7"/><rect x="541.5" y="509.05" width="5" height="4.7"/><rect x="543.5" y="509.05" width="5" height="4.7"/><rect x="544.5" y="509.06" width="5" height="4.7"/><rect x="545.5" y="509.08" width="5" height="4.7"/><rect x="546.5" y="509.12" width="5" height="4.7"/><rect x="548.5" y="509.17" width="5" height="4.7"/><rect x="549.5" y="509.23" width="5" height="4.7"/><rect x="550.5" y="509.3" width="5" height="4.7"/><rect x="552.5" y="509.37" width="5" height="4.7"/><rect x="553.5" y="509.45" width="5" height="4.7"/><rect x="554.5" y="509.54" width="5" height="4.7"/><rect x="556.5" y="509.62" width="5" height="4.7"/><rect x="557.5" y="509.71" width="5" height="4.7"/><rect x="558.5" y="509.8" width="5" height="4.7"/><rect x="560.5" y="509.91" width="5" height="4.7"/><rect x="561.5" y="510.04" width="5" height="4.7"/><rect x="562.5" y="510.19" width="5" height="4.7"/><rect x="563.5" y="510.34" width="5" height="4.7"/><rect x="565.5" y="510.51" width="5" height="4.7"/><rect x="566.5" y="510.68" width="5" height="4.7"/><rect x="567.5" y="510.85" width="5" height="4.7"/><rect x="569.5" y="511.01" width="5" height="4.7"/><rect x="570.5" y="511.17" width="5" height="4.7"/><rect x="571.5" y="511.32" width="5" height="4.7"/><rect x="573.5" y="511.46" width="5" height="4.7"/><rect x="574.5" y="511.59" width="5" height="4.7"/><rect x="575.5" y="511.73" width="5" height="4.7"/><rect x="577.5" y="511.87" width="5" height="4.7"/><rect x="578.5" y="512" width="5" height="4.7"/><rect x="579.5" y="512.14" width="5" height="4.7"/><rect x="580.5" y="512.27" width="5" height="4.7"/><rect x="582.5" y="512.39" width="5" height="4.7"/><rect x="583.5" y="512.5" width="5" height="4.7"/><rect x="584.5" y="512.59" width="5" height="4.7"/><rect x="586.5" y="512.67" width="5" height="4.7"/><rect x="587.5" y="512.73" width="5" height="4.7"/><rect x="588.5" y="512.77" width="5" height="4.7"/><rect x="590.5" y="512.81" width="5" height="4.7"/><rect x="591.5" y="512.85" width="5" height="4.7"/><rect x="592.5" y="512.88" width="5" height="4.7"/><rect x="594.5" y="512.91" width="5" height="4.7"/><rect x="595.5" y="512.93" width="5" height="4.7"/><rect x="595.5" y="512.94" width="5" height="4.7"/><rect x="596.5" y="512.94" width="5" height="4.7"/><rect x="597.5" y="512.95" width="5" height="4.7"/><rect x="597.5" y="512.95" width="5" height="4.7"/><rect x="598.5" y="512.94" width="5" height="4.7"/><rect x="599.5" y="512.92" width="5" height="4.7"/><rect x="599.5" y="512.87" width="5" height="4.7"/><rect x="600.5" y="512.8" width="5" height="4.7"/><rect x="600.5" y="512.73" width="5" height="4.7"/><rect x="601.5" y="512.64" width="5" height="4.7"/><rect x="601.5" y="512.54" width="5" height="4.7"/><rect x="602.5" y="512.44" width="5" height="4.7"/><rect x="603.5" y="512.33" width="5" height="4.7"/><rect x="603.5" y="512.22" width="5" height="4.7"/><rect x="604.5" y="512.11" width="5" height="4.7"/><rect x="604.5" y="512" width="5" height="4.7"/><rect x="605.5" y="511.9" width="5" height="4.7"/><rect x="605.5" y="511.8" width="5" height="4.7"/><rect x="606.5" y="511.7" width="5" height="4.7"/><rect x="606.5" y="511.61" width="5" height="4.7"/><rect x="607.5" y="511.54" width="5" height="4.7"/><rect x="607.5" y="511.47" width="5" height="4.7"/><rect x="608.5" y="511.41" width="5" height="4.7"/><rect x="608.5" y="511.34" width="5" height="4.7"/><rect x="609.5" y="511.28" width="5" height="4.7"/><rect x="609.5" y="511.22" width="5" height="4.7"/><rect x="610.5" y="511.16" width="5" height="4.7"/><rect x="610.5" y="511.1" width="5" height="4.7"/><rect x="611.5" y="511.04" width="5" height="4.7"/><rect x="611.5" y="510.99" width="5" height="4.7"/><rect x="612.5" y="510.93" width="5" height="4.7"/><rect x="612.5" y="510.88" width="5" height="4.7"/><rect x="613.5" y="510.83" width="5" height="4.7"/><rect x="613.5" y="510.78" width="5" height="4.7"/><rect x="614.5" y="510.73" width="5" height="4.7"/><rect x="614.5" y="510.67" width="5" height="4.7"/><rect x="615.5" y="510.62" width="5" height="4.7"/><rect x="615.5" y="510.57" width="5" height="4.7"/><rect x="616.5" y="510.53" width="5" height="4.7"/><rect x="616.5" y="510.5" width="5" height="4.7"/><rect x="617.5" y="510.47" width="5" height="4.7"/><rect x="618.5" y="510.45" width="5" height="4.7"/><rect x="618.5" y="510.43" width="5" height="4.7"/><rect x="619.5" y="510.41" width="5" height="4.7"/><rect x="619.5" y="510.4" width="5" height="4.7"/><rect x="620.5" y="510.38" width="5" height="4.7"/><rect x="620.5" y="510.36" width="5" height="4.7"/><rect x="621.5" y="510.35" width="5" height="4.7"/><rect x="621.5" y="510.34" width="5" height="4.7"/><rect x="622.5" y="510.32" width="5" height="4.7"/><rect x="622.5" y="510.31" width="5" height="4.7"/><rect x="623.5" y="510.3" width="5" height="4.7"/><rect x="623.5" y="510.29" width="5" height="4.7"/><rect x="624.5" y="510.28" width="5" height="4.7"/><rect x="624.5" y="510.27" width="5" height="4.7"/><rect x="625.5" y="510.27" width="5" height="4.7"/><rect x="625.5" y="510.26" width="5" height="4.7"/><rect x="626.5" y="510.26" width="5" height="4.7"/><rect x="626.5" y="510.25" width="5" height="4.7"/><rect x="627.5" y="510.25" width="5" height="4.7"/><rect x="627.5" y="510.25" width="5" height="4.7"/><rect x="628.5" y="510.25" width="5" height="4.7"/><rect x="628.5" y="510.25" width="5" height="4.7"/><rect x="629.5" y="510.26" width="5" height="4.7"/><rect x="629.5" y="510.28" width="5" height="4.7"/><rect x="630.5" y="510.3" width="5" height="4.7"/><rect x="630.5" y="510.32" width="5" height="4.7"/><rect x="631.5" y="510.35" width="5" height="4.7"/><rect x="631.5" y="510.39" width="5" height="4.7"/><rect x="632.5" y="510.43" width="5" height="4.7"/><rect x="632.5" y="510.47" width="5" height="4.7"/><rect x="633.5" y="510.51" width="5" height="4.7"/><rect x="633.5" y="510.56" width="5" height="4.7"/><rect x="634.5" y="510.61" width="5" height="4.7"/><rect x="634.5" y="510.67" width="5" height="4.7"/><rect x="635.5" y="510.72" width="5" height="4.7"/><rect x="635.5" y="510.78" width="5" height="4.7"/><rect x="636.5" y="510.84" width="5" height="4.7"/><rect x="636.5" y="510.9" width="5" height="4.7"/><rect x="637.5" y="510.96" width="5" height="4.7"/><rect x="637.5" y="511.03" width="5" height="4.7"/><rect x="638.5" y="511.1" width="5" height="4.7"/><rect x="638.5" y="511.19" width="5" height="4.7"/><rect x="639.5" y="511.31" width="5" height="4.7"/><rect x="639.5" y="511.44" width="5" height="4.7"/><rect x="640.5" y="511.59" width="5" height="4.7"/><rect x="640.5" y="511.78" width="5" height="4.7"/><rect x="641.5" y="511.98" width="5" height="4.7"/><rect x="641.5" y="512.18" width="5" height="4.7"/><rect x="642.5" y="512.38" width="5" height="4.7"/><rect x="642.5" y="512.57" width="5" height="4.7"/><rect x="643.5" y="512.76" width="5" height="4.7"/><rect x="643.5" y="512.95" width="5" height="4.7"/><rect x="644.5" y="513.14" width="5" height="4.7"/><rect x="644.5" y="513.33" width="5" height="4.7"/></g></g><path d="M54 563.5V553.5M54 463.3V473.3M65.89 563.5V558.5M65.89 463.3V468.3M77.78 563.5V558.5M77.78 463.3V468.3M89.67 563.5V558.5M89.67 463.3V468.3M101.56 563.5V558.5M101.56 463.3V468.3M113.45 563.5V553.5M113.45 463.3V473.3M125.34 563.5V558.5M125.34 463.3V468.3M137.23 563.5V558.5M137.23 463.3V468.3M149.12 563.5V558.5M149.12 463.3V468.3M161.01 563.5V558.5M161.01 463.3V468.3M172.9 563.5V553.5M172.9 463.3V473.3M184.79 563.5V558.5M184.79 463.3V468.3M196.68 563.5V558.5M196.68 463.3V468.3M208.57 563.5V558.5M208.57 463.3V468.3M220.46 563.5V558.5M220.46 463.3V468.3M232.35 563.5V553.5M232.35 463.3V473.3M244.24 563.5V558.5M244.24 463.3V468.3M256.13 563.5V558.5M256.13 463.3V468.3M268.02 563.5V558.5M268.02 463.3V468.3M279.91 563.5V558.5M279.91 463.3V468.3M291.8 563.5V553.5M291.8 463.3V473.3M303.69 563.5V558.5M303.69 463.3V468.3M315.58 563.5V558.5M315.58 463.3V468.3M327.47 563.5V558.5M327.47 463.3V468.3M339.36 563.5V558.5M339.36 463.3V468.3M351.25 563.5V553.5M351.25 463.3V473.3M363.14 563.5V558.5M363.14 463.3V468.3M375.03 563.5V558.5M375.03 463.3V468.3M386.92 563.5V558.5M386.92 463.3V468.3M398.81 563.5V558.5M398.81 463.3V468.3M410.7 563.5V553.5M410.7 463.3V473.3M422.59 563.5V558.5M422.59 463.3V468.3M434.48 563.5V558.5M434.48 463.3V468.3M446.37 563.5V558.5M446.37 463.3V468.3M458.26 563.5V558.5M458.26 463.3V468.3M470.15 563.5V553.5M470.15 463.3V473.3M482.04 563.5V558.5M482.04 463.3V468.3M493.93 563.5V558.5M493.93 463.3V468.3M505.82 563.5V558.5M505.82 463.3V468.3M517.71 563.5V558.5M517.71 463.3V468.3M529.6 563.5V553.5M529.6 463.3V473.3M541.49 563.5V558.5M541.49 463.3V468.3M553.38 563.5V558.5M553.38 463.3V468.3M565.27 563.5V558.5M565.27 463.3V468.3M577.16 563.5V558.5M577.16 463.3V468.3M589.05 563.5V553.5M589.05 463.3V473.3M600.94 563.5V558.5M600.94 463.3V468.3M612.83 563.5V558.5M612.83 463.3V468.3M624.72 563.5V558.5M624.72 463.3V468.3M636.61 563.5V558.5M636.61 463.3V468.3M648.5 563.5V553.5M648.5 463.3V473.3M660.39 563.5V558.5M660.39 463.3V468.3M672.28 563.5V558.5M672.28 463.3V468.3M684.17 563.5V558.5M684.17 463.3V468.3M53.8 463.26H63.8M684.3 463.26H674.3M53.8 468.27H58.8M684.3 468.27H679.3M53.8 473.29H58.8M684.3 473.29H679.3M53.8 478.3H58.8M684.3 478.3H679.3M53.8 483.32H58.8M684.3 483.32H679.3M53.8 488.33H63.8M684.3 488.33H674.3M53.8 493.34H58.8M684.3 493.34H679.3M53.8 498.36H58.8M684.3 498.36H679.3M53.8 503.37H58.8M684.3 503.37H679.3M53.8 508.39H58.8M684.3 508.39H679.3M53.8 513.4H63.8M684.3 513.4H674.3M53.8 518.41H58.8M684.3 518.41H679.3M53.8 523.43H58.8M684.3 523.43H679.3M53.8 528.44H58.8M684.3 528.44H679.3M53.8 533.46H58.8M684.3 533.46H679.3M53.8 538.47H63.8M684.3 538.47H674.3M53.8 543.48H58.8M684.3 543.48H679.3M53.8 548.5H58.8M684.3 548.5H679.3M53.8 553.51H58.8M684.3 553.51H679.3M53.8 558.53H58.8M684.3 558.53H679.3M53.8 563.54H63.8M684.3 563.54H674.3" stroke="#505050" stroke-width="1" fill="none"/><rect x="53.8" y="463.3" width="630.5" height="100.2" fill="none" stroke="#505050" stroke-width="1"/><line x1="54" y1="513.5" x2="684" y2="513.5" stroke="#ff2020" stroke-width="1.2"/><g font-size="10" fill="#1a1a1a"><text x="55.4" y="582.9" text-anchor="middle">–5.0</text><text x="114.85" y="582.9" text-anchor="middle">–4.5</text><text x="174.3" y="582.9" text-anchor="middle">–4.0</text><text x="233.75" y="582.9" text-anchor="middle">–3.5</text><text x="293.2" y="582.9" text-anchor="middle">–3.0</text><text x="352.65" y="582.9" text-anchor="middle">–2.5</text><text x="412.1" y="582.9" text-anchor="middle">–2.0</text><text x="471.55" y="582.9" text-anchor="middle">–1.5</text><text x="531" y="582.9" text-anchor="middle">–1.0</text><text x="590.45" y="582.9" text-anchor="middle">–0.5</text><text x="649.9" y="582.9" text-anchor="middle">0.0</text><text x="42.5" y="466.66" text-anchor="end">0.02</text><text x="42.5" y="491.73" text-anchor="end">0.01</text><text x="42.5" y="516.8" text-anchor="end">0.00</text><text x="42.5" y="541.87" text-anchor="end">–0.01</text><text x="42.5" y="566.94" text-anchor="end">–0.02</text></g><text x="368.8" y="595" text-anchor="middle" font-size="9.7" fill="#1a1a1a">Log <tspan font-family="Liberation Serif" font-style="italic" font-size="11.15">τ</tspan><tspan font-size="8.24" dx="-2.54" baseline-shift="0.97">ˆ</tspan><tspan dx="-0.02"></tspan></text><text x="91.5" y="491.3" font-size="9.7" fill="#1a1a1a">Residuals of the H<tspan font-size="6.8" baseline-shift="-1.5">2</tspan>O isobaric heat capacity C<tspan font-size="6.8" baseline-shift="-1">P</tspan>(<tspan font-family="Liberation Serif" font-style="italic" font-size="11.15">τ</tspan><tspan font-size="8.24" dx="-2.54" baseline-shift="0.97">ˆ</tspan><tspan dx="-0.02">), </tspan><tspan font-family="Liberation Serif" font-style="italic" font-size="11.15">τ</tspan><tspan font-size="8.24" dx="-2.54" baseline-shift="0.97">ˆ</tspan><tspan dx="-0.02"></tspan> = |T / T<tspan font-size="6.8" baseline-shift="-1">c</tspan>−1|, T &gt; T<tspan font-size="6.8" baseline-shift="-1">c</tspan></text><text transform="translate(7.5,513.4) rotate(-90)" text-anchor="middle" font-size="9.7" fill="#1a1a1a">(C<tspan font-size="6.8" baseline-shift="-1">P</tspan>(<tspan font-family="Liberation Serif" font-style="italic" font-size="11.15">τ</tspan><tspan font-size="8.24" dx="-2.54" baseline-shift="0.97">ˆ</tspan><tspan dx="-0.02"></tspan><tspan font-size="6.8" baseline-shift="-1">i</tspan>)−C<tspan font-size="6.8" baseline-shift="-1">P,i</tspan>)/C<tspan font-size="6.8" baseline-shift="-1">P,i</tspan></text><g clip-path="url(#cr2)"><g fill="#000"><rect x="292.71" y="687.65" width="5.7" height="5.7"/><rect x="316.16" y="667.85" width="5.7" height="5.7"/><rect x="332.23" y="652.55" width="5.7" height="5.7"/><rect x="344.46" y="645.35" width="5.7" height="5.7"/><rect x="354.35" y="643.85" width="5.7" height="5.7"/><rect x="362.64" y="645.55" width="5.7" height="5.7"/><rect x="369.78" y="649.55" width="5.7" height="5.7"/><rect x="376.06" y="653.55" width="5.7" height="5.7"/><rect x="381.65" y="657.55" width="5.7" height="5.7"/><rect x="386.7" y="661.45" width="5.7" height="5.7"/><rect x="391.29" y="664.85" width="5.7" height="5.7"/><rect x="395.52" y="667.05" width="5.7" height="5.7"/><rect x="399.42" y="669.07" width="5.7" height="5.7"/><rect x="403.05" y="670.68" width="5.7" height="5.7"/><rect x="406.43" y="671.45" width="5.7" height="5.7"/><rect x="409.62" y="671.78" width="5.7" height="5.7"/><rect x="412.61" y="671.93" width="5.7" height="5.7"/><rect x="415.44" y="671.91" width="5.7" height="5.7"/><rect x="418.13" y="671.67" width="5.7" height="5.7"/><rect x="420.68" y="671.3" width="5.7" height="5.7"/><rect x="423.11" y="670.72" width="5.7" height="5.7"/><rect x="425.43" y="670.11" width="5.7" height="5.7"/><rect x="427.66" y="669.44" width="5.7" height="5.7"/><rect x="429.79" y="668.73" width="5.7" height="5.7"/><rect x="431.83" y="667.93" width="5.7" height="5.7"/><rect x="433.8" y="667.1" width="5.7" height="5.7"/><rect x="435.7" y="666.26" width="5.7" height="5.7"/><rect x="437.52" y="665.4" width="5.7" height="5.7"/><rect x="439.29" y="664.59" width="5.7" height="5.7"/><rect x="441" y="663.79" width="5.7" height="5.7"/><rect x="442.65" y="663.04" width="5.7" height="5.7"/><rect x="444.25" y="662.41" width="5.7" height="5.7"/><rect x="445.81" y="661.88" width="5.7" height="5.7"/><rect x="447.32" y="661.42" width="5.7" height="5.7"/><rect x="448.78" y="661.04" width="5.7" height="5.7"/><rect x="450.21" y="660.73" width="5.7" height="5.7"/><rect x="451.59" y="660.47" width="5.7" height="5.7"/><rect x="452.94" y="660.24" width="5.7" height="5.7"/><rect x="454.26" y="660.03" width="5.7" height="5.7"/><rect x="455.54" y="659.83" width="5.7" height="5.7"/><rect x="456.79" y="659.63" width="5.7" height="5.7"/><rect x="458.02" y="659.47" width="5.7" height="5.7"/><rect x="459.21" y="659.34" width="5.7" height="5.7"/><rect x="460.38" y="659.25" width="5.7" height="5.7"/><rect x="461.52" y="659.16" width="5.7" height="5.7"/><rect x="462.64" y="659.09" width="5.7" height="5.7"/><rect x="463.73" y="659.05" width="5.7" height="5.7"/><rect x="464.8" y="659.05" width="5.7" height="5.7"/><rect x="465.85" y="659.08" width="5.7" height="5.7"/><rect x="466.88" y="659.12" width="5.7" height="5.7"/><rect x="467.88" y="659.17" width="5.7" height="5.7"/><rect x="468.87" y="659.23" width="5.7" height="5.7"/><rect x="469.84" y="659.3" width="5.7" height="5.7"/><rect x="470.8" y="659.42" width="5.7" height="5.7"/><rect x="471.73" y="659.56" width="5.7" height="5.7"/><rect x="472.65" y="659.72" width="5.7" height="5.7"/><rect x="473.55" y="659.89" width="5.7" height="5.7"/><rect x="474.44" y="660.06" width="5.7" height="5.7"/><rect x="475.31" y="660.23" width="5.7" height="5.7"/><rect x="476.17" y="660.39" width="5.7" height="5.7"/><rect x="477.01" y="660.53" width="5.7" height="5.7"/><rect x="477.84" y="660.65" width="5.7" height="5.7"/><rect x="478.66" y="660.77" width="5.7" height="5.7"/><rect x="479.46" y="660.89" width="5.7" height="5.7"/><rect x="480.25" y="661" width="5.7" height="5.7"/><rect x="481.03" y="661.1" width="5.7" height="5.7"/><rect x="481.8" y="661.21" width="5.7" height="5.7"/><rect x="482.55" y="661.31" width="5.7" height="5.7"/><rect x="483.3" y="661.41" width="5.7" height="5.7"/><rect x="484.04" y="661.51" width="5.7" height="5.7"/><rect x="484.76" y="661.61" width="5.7" height="5.7"/><rect x="485.48" y="661.71" width="5.7" height="5.7"/><rect x="486.18" y="661.81" width="5.7" height="5.7"/><rect x="486.88" y="661.91" width="5.7" height="5.7"/><rect x="487.56" y="662.01" width="5.7" height="5.7"/><rect x="488.24" y="662.12" width="5.7" height="5.7"/><rect x="488.91" y="662.24" width="5.7" height="5.7"/><rect x="491.34" y="662.71" width="5.7" height="5.7"/><rect x="493.66" y="663.12" width="5.7" height="5.7"/><rect x="495.89" y="663.39" width="5.7" height="5.7"/><rect x="498.02" y="663.46" width="5.7" height="5.7"/><rect x="500.07" y="663.49" width="5.7" height="5.7"/><rect x="502.03" y="663.51" width="5.7" height="5.7"/><rect x="503.93" y="663.52" width="5.7" height="5.7"/><rect x="505.76" y="663.53" width="5.7" height="5.7"/><rect x="507.53" y="663.54" width="5.7" height="5.7"/><rect x="509.24" y="663.55" width="5.7" height="5.7"/><rect x="510.89" y="663.55" width="5.7" height="5.7"/><rect x="512.49" y="663.55" width="5.7" height="5.7"/><rect x="514.05" y="663.54" width="5.7" height="5.7"/><rect x="515.55" y="663.51" width="5.7" height="5.7"/><rect x="517.02" y="663.48" width="5.7" height="5.7"/><rect x="518.44" y="663.44" width="5.7" height="5.7"/><rect x="519.83" y="663.39" width="5.7" height="5.7"/><rect x="521.18" y="663.35" width="5.7" height="5.7"/><rect x="522.5" y="663.3" width="5.7" height="5.7"/><rect x="523.78" y="663.26" width="5.7" height="5.7"/><rect x="525.04" y="663.21" width="5.7" height="5.7"/><rect x="526.26" y="663.18" width="5.7" height="5.7"/><rect x="527.45" y="663.14" width="5.7" height="5.7"/><rect x="528.62" y="663.11" width="5.7" height="5.7"/><rect x="529.76" y="663.08" width="5.7" height="5.7"/><rect x="530.88" y="663.05" width="5.7" height="5.7"/><rect x="531.97" y="663.02" width="5.7" height="5.7"/><rect x="533.04" y="662.99" width="5.7" height="5.7"/><rect x="534.09" y="662.96" width="5.7" height="5.7"/><rect x="535.12" y="662.94" width="5.7" height="5.7"/><rect x="536.13" y="662.91" width="5.7" height="5.7"/><rect x="537.12" y="662.88" width="5.7" height="5.7"/><rect x="538.09" y="662.86" width="5.7" height="5.7"/><rect x="539.04" y="662.83" width="5.7" height="5.7"/><rect x="539.97" y="662.81" width="5.7" height="5.7"/><rect x="540.89" y="662.78" width="5.7" height="5.7"/><rect x="541.79" y="662.76" width="5.7" height="5.7"/><rect x="542.68" y="662.74" width="5.7" height="5.7"/><rect x="543.55" y="662.71" width="5.7" height="5.7"/><rect x="544.41" y="662.68" width="5.7" height="5.7"/><rect x="545.25" y="662.65" width="5.7" height="5.7"/><rect x="546.08" y="662.62" width="5.7" height="5.7"/><rect x="546.9" y="662.6" width="5.7" height="5.7"/><rect x="547.7" y="662.57" width="5.7" height="5.7"/><rect x="548.5" y="662.54" width="5.7" height="5.7"/><rect x="549.28" y="662.51" width="5.7" height="5.7"/><rect x="550.04" y="662.49" width="5.7" height="5.7"/><rect x="550.8" y="662.46" width="5.7" height="5.7"/><rect x="551.55" y="662.44" width="5.7" height="5.7"/><rect x="552.28" y="662.42" width="5.7" height="5.7"/><rect x="553.01" y="662.4" width="5.7" height="5.7"/><rect x="553.72" y="662.39" width="5.7" height="5.7"/><rect x="554.43" y="662.37" width="5.7" height="5.7"/><rect x="555.12" y="662.36" width="5.7" height="5.7"/><rect x="555.81" y="662.36" width="5.7" height="5.7"/><rect x="556.49" y="662.35" width="5.7" height="5.7"/><rect x="557.15" y="662.35" width="5.7" height="5.7"/><rect x="557.81" y="662.35" width="5.7" height="5.7"/><rect x="558.47" y="662.35" width="5.7" height="5.7"/><rect x="559.11" y="662.35" width="5.7" height="5.7"/><rect x="559.75" y="662.35" width="5.7" height="5.7"/><rect x="560.37" y="662.35" width="5.7" height="5.7"/><rect x="560.99" y="662.35" width="5.7" height="5.7"/><rect x="561.61" y="662.35" width="5.7" height="5.7"/><rect x="562.21" y="662.35" width="5.7" height="5.7"/><rect x="562.81" y="662.35" width="5.7" height="5.7"/><rect x="563.4" y="662.35" width="5.7" height="5.7"/><rect x="563.99" y="662.35" width="5.7" height="5.7"/><rect x="564.57" y="662.35" width="5.7" height="5.7"/><rect x="565.14" y="662.35" width="5.7" height="5.7"/><rect x="565.71" y="662.35" width="5.7" height="5.7"/><rect x="566.27" y="662.35" width="5.7" height="5.7"/><rect x="566.82" y="662.35" width="5.7" height="5.7"/><rect x="567.37" y="662.35" width="5.7" height="5.7"/><rect x="567.91" y="662.35" width="5.7" height="5.7"/><rect x="568.45" y="662.35" width="5.7" height="5.7"/><rect x="568.98" y="662.35" width="5.7" height="5.7"/><rect x="569.5" y="662.35" width="5.7" height="5.7"/><rect x="570.02" y="662.35" width="5.7" height="5.7"/><rect x="570.54" y="662.35" width="5.7" height="5.7"/><rect x="571.05" y="662.35" width="5.7" height="5.7"/><rect x="571.55" y="662.35" width="5.7" height="5.7"/><rect x="572.05" y="662.35" width="5.7" height="5.7"/><rect x="572.55" y="662.35" width="5.7" height="5.7"/><rect x="573.04" y="662.35" width="5.7" height="5.7"/><rect x="573.53" y="662.35" width="5.7" height="5.7"/><rect x="574.01" y="662.35" width="5.7" height="5.7"/><rect x="574.49" y="662.35" width="5.7" height="5.7"/><rect x="574.96" y="662.35" width="5.7" height="5.7"/><rect x="575.43" y="662.35" width="5.7" height="5.7"/><rect x="575.89" y="662.35" width="5.7" height="5.7"/><rect x="576.35" y="662.35" width="5.7" height="5.7"/><rect x="576.81" y="662.35" width="5.7" height="5.7"/><rect x="577.26" y="662.35" width="5.7" height="5.7"/><rect x="578.15" y="662.35" width="5.7" height="5.7"/><rect x="579.03" y="662.35" width="5.7" height="5.7"/><rect x="579.89" y="662.35" width="5.7" height="5.7"/><rect x="580.74" y="662.35" width="5.7" height="5.7"/><rect x="581.57" y="662.35" width="5.7" height="5.7"/><rect x="582.4" y="662.35" width="5.7" height="5.7"/><rect x="583.2" y="662.35" width="5.7" height="5.7"/><rect x="584" y="662.35" width="5.7" height="5.7"/><rect x="584.78" y="662.35" width="5.7" height="5.7"/><rect x="585.56" y="662.35" width="5.7" height="5.7"/><rect x="586.32" y="662.35" width="5.7" height="5.7"/><rect x="587.07" y="662.35" width="5.7" height="5.7"/><rect x="587.81" y="662.35" width="5.7" height="5.7"/><rect x="588.54" y="662.35" width="5.7" height="5.7"/><rect x="589.25" y="662.35" width="5.7" height="5.7"/><rect x="589.96" y="662.35" width="5.7" height="5.7"/><rect x="590.66" y="662.35" width="5.7" height="5.7"/><rect x="591.35" y="662.35" width="5.7" height="5.7"/><rect x="592.03" y="662.35" width="5.7" height="5.7"/><rect x="592.7" y="662.35" width="5.7" height="5.7"/><rect x="593.37" y="662.35" width="5.7" height="5.7"/><rect x="594.02" y="662.35" width="5.7" height="5.7"/><rect x="594.67" y="662.35" width="5.7" height="5.7"/><rect x="595.31" y="662.35" width="5.7" height="5.7"/><rect x="595.94" y="662.35" width="5.7" height="5.7"/><rect x="596.56" y="662.35" width="5.7" height="5.7"/><rect x="597.18" y="662.35" width="5.7" height="5.7"/><rect x="597.78" y="662.36" width="5.7" height="5.7"/><rect x="598.39" y="662.38" width="5.7" height="5.7"/><rect x="598.98" y="662.41" width="5.7" height="5.7"/><rect x="599.57" y="662.45" width="5.7" height="5.7"/><rect x="600.15" y="662.5" width="5.7" height="5.7"/><rect x="600.72" y="662.55" width="5.7" height="5.7"/><rect x="601.29" y="662.61" width="5.7" height="5.7"/><rect x="601.85" y="662.67" width="5.7" height="5.7"/><rect x="602.41" y="662.73" width="5.7" height="5.7"/><rect x="602.96" y="662.78" width="5.7" height="5.7"/><rect x="603.51" y="662.84" width="5.7" height="5.7"/><rect x="604.04" y="662.89" width="5.7" height="5.7"/><rect x="604.58" y="662.93" width="5.7" height="5.7"/><rect x="605.1" y="662.97" width="5.7" height="5.7"/><rect x="605.63" y="663.01" width="5.7" height="5.7"/><rect x="606.14" y="663.03" width="5.7" height="5.7"/><rect x="606.66" y="663.05" width="5.7" height="5.7"/><rect x="607.16" y="663.05" width="5.7" height="5.7"/><rect x="607.66" y="662.99" width="5.7" height="5.7"/><rect x="608.16" y="662.83" width="5.7" height="5.7"/><rect x="608.65" y="662.6" width="5.7" height="5.7"/><rect x="609.14" y="662.35" width="5.7" height="5.7"/><rect x="609.63" y="662.11" width="5.7" height="5.7"/><rect x="610.1" y="661.89" width="5.7" height="5.7"/><rect x="610.58" y="661.73" width="5.7" height="5.7"/><rect x="611.05" y="661.65" width="5.7" height="5.7"/><rect x="611.51" y="661.66" width="5.7" height="5.7"/><rect x="611.98" y="661.7" width="5.7" height="5.7"/><rect x="612.43" y="661.76" width="5.7" height="5.7"/><rect x="612.89" y="661.85" width="5.7" height="5.7"/><rect x="613.56" y="662" width="5.7" height="5.7"/><rect x="614.22" y="662.17" width="5.7" height="5.7"/><rect x="614.88" y="662.42" width="5.7" height="5.7"/><rect x="615.53" y="662.77" width="5.7" height="5.7"/><rect x="616.17" y="663.2" width="5.7" height="5.7"/><rect x="616.8" y="663.7" width="5.7" height="5.7"/><rect x="617.33" y="664.16" width="5.7" height="5.7"/></g></g><path d="M54 715.4V705.4M54 615V625M65.89 715.4V710.4M65.89 615V620M77.78 715.4V710.4M77.78 615V620M89.67 715.4V710.4M89.67 615V620M101.56 715.4V710.4M101.56 615V620M113.45 715.4V705.4M113.45 615V625M125.34 715.4V710.4M125.34 615V620M137.23 715.4V710.4M137.23 615V620M149.12 715.4V710.4M149.12 615V620M161.01 715.4V710.4M161.01 615V620M172.9 715.4V705.4M172.9 615V625M184.79 715.4V710.4M184.79 615V620M196.68 715.4V710.4M196.68 615V620M208.57 715.4V710.4M208.57 615V620M220.46 715.4V710.4M220.46 615V620M232.35 715.4V705.4M232.35 615V625M244.24 715.4V710.4M244.24 615V620M256.13 715.4V710.4M256.13 615V620M268.02 715.4V710.4M268.02 615V620M279.91 715.4V710.4M279.91 615V620M291.8 715.4V705.4M291.8 615V625M303.69 715.4V710.4M303.69 615V620M315.58 715.4V710.4M315.58 615V620M327.47 715.4V710.4M327.47 615V620M339.36 715.4V710.4M339.36 615V620M351.25 715.4V705.4M351.25 615V625M363.14 715.4V710.4M363.14 615V620M375.03 715.4V710.4M375.03 615V620M386.92 715.4V710.4M386.92 615V620M398.81 715.4V710.4M398.81 615V620M410.7 715.4V705.4M410.7 615V625M422.59 715.4V710.4M422.59 615V620M434.48 715.4V710.4M434.48 615V620M446.37 715.4V710.4M446.37 615V620M458.26 715.4V710.4M458.26 615V620M470.15 715.4V705.4M470.15 615V625M482.04 715.4V710.4M482.04 615V620M493.93 715.4V710.4M493.93 615V620M505.82 715.4V710.4M505.82 615V620M517.71 715.4V710.4M517.71 615V620M529.6 715.4V705.4M529.6 615V625M541.49 715.4V710.4M541.49 615V620M553.38 715.4V710.4M553.38 615V620M565.27 715.4V710.4M565.27 615V620M577.16 715.4V710.4M577.16 615V620M589.05 715.4V705.4M589.05 615V625M600.94 715.4V710.4M600.94 615V620M612.83 715.4V710.4M612.83 615V620M624.72 715.4V710.4M624.72 615V620M636.61 715.4V710.4M636.61 615V620M648.5 715.4V705.4M648.5 615V625M660.39 715.4V710.4M660.39 615V620M672.28 715.4V710.4M672.28 615V620M684.17 715.4V710.4M684.17 615V620M53.8 615H63.8M684.3 615H674.3M53.8 620.02H58.8M684.3 620.02H679.3M53.8 625.04H58.8M684.3 625.04H679.3M53.8 630.06H58.8M684.3 630.06H679.3M53.8 635.08H58.8M684.3 635.08H679.3M53.8 640.1H63.8M684.3 640.1H674.3M53.8 645.12H58.8M684.3 645.12H679.3M53.8 650.14H58.8M684.3 650.14H679.3M53.8 655.16H58.8M684.3 655.16H679.3M53.8 660.18H58.8M684.3 660.18H679.3M53.8 665.2H63.8M684.3 665.2H674.3M53.8 670.22H58.8M684.3 670.22H679.3M53.8 675.24H58.8M684.3 675.24H679.3M53.8 680.26H58.8M684.3 680.26H679.3M53.8 685.28H58.8M684.3 685.28H679.3M53.8 690.3H63.8M684.3 690.3H674.3M53.8 695.32H58.8M684.3 695.32H679.3M53.8 700.34H58.8M684.3 700.34H679.3M53.8 705.36H58.8M684.3 705.36H679.3M53.8 710.38H58.8M684.3 710.38H679.3M53.8 715.4H63.8M684.3 715.4H674.3" stroke="#505050" stroke-width="1" fill="none"/><rect x="53.8" y="615" width="630.5" height="100.4" fill="none" stroke="#505050" stroke-width="1"/><line x1="54" y1="665.5" x2="684" y2="665.5" stroke="#40e840" stroke-width="1.2"/><g font-size="10" fill="#1a1a1a"><text x="55.4" y="735.1" text-anchor="middle">–5.0</text><text x="114.85" y="735.1" text-anchor="middle">–4.5</text><text x="174.3" y="735.1" text-anchor="middle">–4.0</text><text x="233.75" y="735.1" text-anchor="middle">–3.5</text><text x="293.2" y="735.1" text-anchor="middle">–3.0</text><text x="352.65" y="735.1" text-anchor="middle">–2.5</text><text x="412.1" y="735.1" text-anchor="middle">–2.0</text><text x="471.55" y="735.1" text-anchor="middle">–1.5</text><text x="531" y="735.1" text-anchor="middle">–1.0</text><text x="590.45" y="735.1" text-anchor="middle">–0.5</text><text x="649.9" y="735.1" text-anchor="middle">0.0</text><text x="42.5" y="618.4" text-anchor="end">0.02</text><text x="42.5" y="643.5" text-anchor="end">0.01</text><text x="42.5" y="668.6" text-anchor="end">0.00</text><text x="42.5" y="693.7" text-anchor="end">–0.01</text><text x="42.5" y="718.8" text-anchor="end">–0.02</text></g><text x="368.8" y="747" text-anchor="middle" font-size="9.7" fill="#1a1a1a">Log <tspan font-family="Liberation Serif" font-style="italic" font-size="11.15">τ</tspan><tspan font-size="8.24" dx="-2.54" baseline-shift="0.97">ˆ</tspan><tspan dx="-0.02"></tspan></text><text x="91.5" y="637.6" font-size="9.7" fill="#1a1a1a">Residuals of the H<tspan font-size="6.8" baseline-shift="-1.5">2</tspan>O isobaric heat capacity C<tspan font-size="6.8" baseline-shift="-1">P</tspan>(<tspan font-family="Liberation Serif" font-style="italic" font-size="11.15">τ</tspan><tspan font-size="8.24" dx="-2.54" baseline-shift="0.97">ˆ</tspan><tspan dx="-0.02">), </tspan><tspan font-family="Liberation Serif" font-style="italic" font-size="11.15">τ</tspan><tspan font-size="8.24" dx="-2.54" baseline-shift="0.97">ˆ</tspan><tspan dx="-0.02"></tspan> = |T / T<tspan font-size="6.8" baseline-shift="-1">c</tspan>−1|, T &lt; T<tspan font-size="6.8" baseline-shift="-1">c</tspan></text><text transform="translate(7.5,665.2) rotate(-90)" text-anchor="middle" font-size="9.7" fill="#1a1a1a">(C<tspan font-size="6.8" baseline-shift="-1">P</tspan>(<tspan font-family="Liberation Serif" font-style="italic" font-size="11.15">τ</tspan><tspan font-size="8.24" dx="-2.54" baseline-shift="0.97">ˆ</tspan><tspan dx="-0.02"></tspan><tspan font-size="6.8" baseline-shift="-1">i</tspan>)−C<tspan font-size="6.8" baseline-shift="-1">P,i</tspan>)/C<tspan font-size="6.8" baseline-shift="-1">P,i</tspan></text></svg></body></html>
